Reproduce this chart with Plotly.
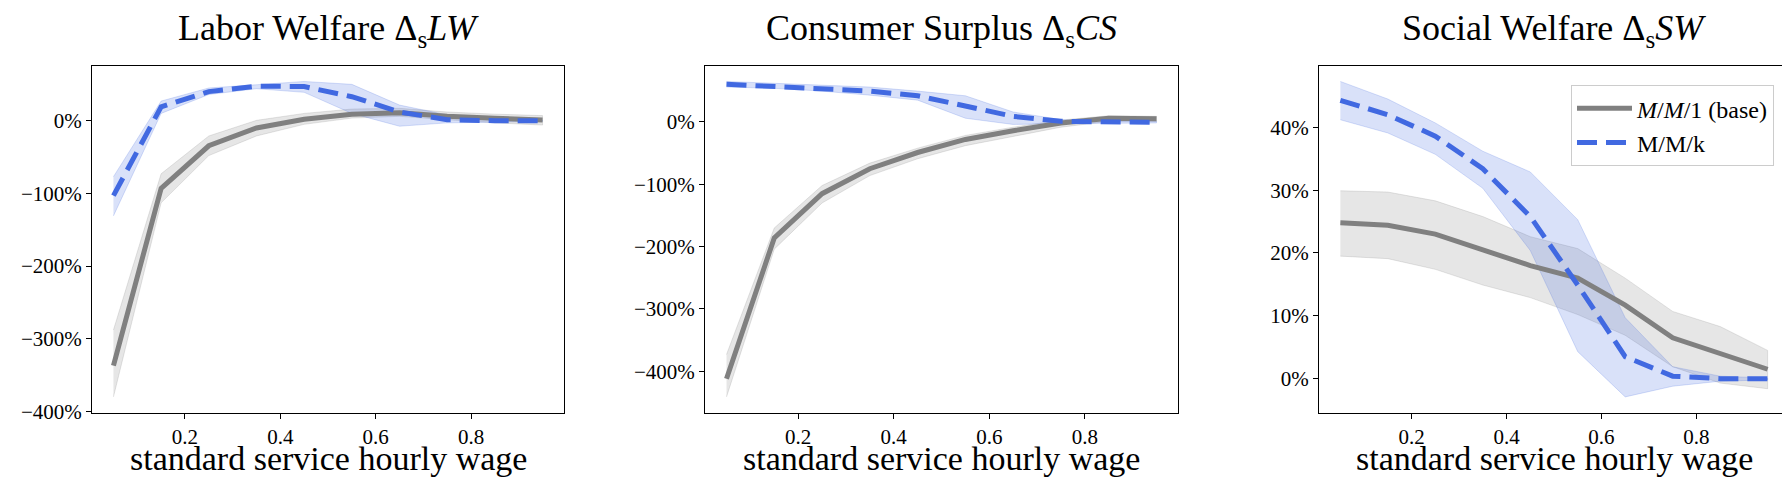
import plotly.graph_objects as go

# hourly wage grid (shared by all panels)
wage = [0.05, 0.15, 0.25, 0.35, 0.45, 0.55, 0.65, 0.75, 0.85, 0.95]

# Labor welfare (%)
lw_base = [-337, -93, -34.5, -10, 2, 9, 11, 6, 3.5, 1]
lw_base_hi = [-288, -73, -21, 0.5, 10, 16, 17, 12, 9, 7]
lw_base_lo = [-380, -113, -48, -21, -5, 3.6, 6, 1.3, -3, -6]
lw_k = [-103, 19, 40, 47.5, 47, 33, 12, 1.3, 0, 0]
lw_k_hi = [-77, 27, 45, 50, 54, 50, 21.5, 8, 1.3, 1]
lw_k_lo = [-131, 10, 36, 44, 39, 10, -7.6, -3, -2, -1]

# Consumer surplus (%)
cs_base = [-412, -186, -115, -75, -49, -28, -14, -1.6, 6, 5]
cs_base_hi = [-373, -170, -102, -66, -42, -21.6, -8.4, 3, 10, 9]
cs_base_lo = [-441, -204, -130, -86, -59, -38, -22.6, -8.4, 1, 1]
cs_k = [60.5, 57, 54, 49.5, 42, 26, 9, 1, 0, -0.5]
cs_k_hi = [65, 61.6, 59, 56, 49.5, 42, 16, 3.7, 1, 1]
cs_k_lo = [56, 54, 49.5, 43, 35, 6, -4, -2.6, -1.6, -1.6]

# Social welfare (%)
sw_base = [24.8, 24.4, 23, 20.6, 18, 16, 11.7, 6.5, 4, 1.5]
sw_base_hi = [29.9, 29.7, 28.3, 25.8, 22.6, 20.7, 16, 10.7, 8.3, 4.5]
sw_base_lo = [19.5, 19.1, 17.4, 14.9, 12.9, 10.2, 6.9, 1.9, -0.7, -1.6]
sw_k = [44.3, 42, 38.6, 33.4, 25.8, 14.9, 3.5, 0.4, 0, 0]
sw_k_hi = [47.3, 44.5, 40.7, 36.2, 32.9, 25.3, 9.7, 1.9, 0.4, 0.1]
sw_k_lo = [41.2, 39.1, 35.7, 30.3, 20.4, 4.3, -2.9, -1.2, -0.4, -0.2]

titles = ["Labor Welfare Δ<sub>s</sub><i>LW</i>",
          "Consumer Surplus Δ<sub>s</sub><i>CS</i>",
          "Social Welfare Δ<sub>s</sub><i>SW</i>"]
x_label = "standard service hourly wage"
y_ticks = [[-400, -300, -200, -100, 0],
           [-400, -300, -200, -100, 0],
           [0, 10, 20, 30, 40]]
x_ticks = [0.2, 0.4, 0.6, 0.8]

panels = [
    (lw_base, lw_base_lo, lw_base_hi, lw_k, lw_k_lo, lw_k_hi),
    (cs_base, cs_base_lo, cs_base_hi, cs_k, cs_k_lo, cs_k_hi),
    (sw_base, sw_base_lo, sw_base_hi, sw_k, sw_k_lo, sw_k_hi),
]

W, H = 1790, 488
x_dom = [(84, 556), (697, 1170), (1311, 1781)]
y_dom = [1 - 414 / H, 1 - 59 / H]

FONT = "Liberation Serif"
GRAY = "#808080"
BLUE = "#4169E1"

fig = go.Figure()


def band(x, lo, hi, color, ax):
    fig.add_trace(go.Scatter(
        x=list(x) + list(x)[::-1],
        y=list(hi) + list(lo)[::-1],
        fill="toself", fillcolor=color,
        line=dict(width=1, color=color),
        hoverinfo="skip", showlegend=False,
        xaxis="x" + ax, yaxis="y" + ax,
    ))


for i, (b, blo, bhi, k, klo, khi) in enumerate(panels):
    ax = "" if i == 0 else str(i + 1)
    band(wage, blo, bhi, "rgba(128,128,128,0.2)", ax)
    band(wage, klo, khi, "rgba(65,105,225,0.2)", ax)
    fig.add_trace(go.Scatter(
        x=wage, y=b, mode="lines",
        line=dict(color=GRAY, width=5),
        name="<i>M</i>/<i>M</i>/1 (base)", showlegend=(i == 2),
        xaxis="x" + ax, yaxis="y" + ax,
    ))
    fig.add_trace(go.Scatter(
        x=wage, y=k, mode="lines",
        line=dict(color=BLUE, width=5, dash="20px,9px"),
        name="M/M/k", showlegend=(i == 2),
        xaxis="x" + ax, yaxis="y" + ax,
    ))

    # matplotlib-like 5% margins around the data
    allv = blo + bhi + klo + khi + b + k
    lo_v, hi_v = min(allv), max(allv)
    pad = 0.05 * (hi_v - lo_v)
    axis_common = dict(showline=True, linecolor="black", linewidth=1, mirror=True,
                       ticks="outside", ticklen=5, tickcolor="black", showgrid=False,
                       zeroline=False, tickfont=dict(family=FONT, size=21, color="black"))
    fig.layout["xaxis" + ax] = dict(
        domain=[x_dom[i][0] / W, x_dom[i][1] / W], anchor="y" + ax,
        range=[0.005, 0.995], tickvals=x_ticks,
        ticktext=[f"{t:.1f}" for t in x_ticks], **axis_common)
    fig.layout["yaxis" + ax] = dict(
        domain=y_dom, anchor="x" + ax,
        range=[lo_v - pad, hi_v + pad], tickvals=y_ticks[i],
        ticktext=[(f"−{abs(t)}%" if t < 0 else f"{t}%") for t in y_ticks[i]],
        **axis_common)

    cx = (x_dom[i][0] + x_dom[i][1]) / 2 / W
    fig.add_annotation(x=cx, y=1 - 23 / H, xref="paper", yref="paper",
                       text=titles[i], showarrow=False,
                       xanchor="center", yanchor="middle",
                       font=dict(family=FONT, size=36, color="black"))
    fig.add_annotation(x=cx, y=1 - 461 / H, xref="paper", yref="paper",
                       text=x_label, showarrow=False,
                       xanchor="center", yanchor="middle",
                       font=dict(family=FONT, size=34, color="black"))

fig.update_layout(
    width=W, height=H,
    margin=dict(l=0, r=0, t=0, b=0),
    paper_bgcolor="white", plot_bgcolor="white",
    legend=dict(x=1766 / W, y=1 - 79 / H, xanchor="right", yanchor="top",
                itemwidth=55,
                bgcolor="rgba(255,255,255,0.8)", bordercolor="#cccccc", borderwidth=1,
                font=dict(family=FONT, size=24, color="black")),
)

fig.write_html("out.html")
